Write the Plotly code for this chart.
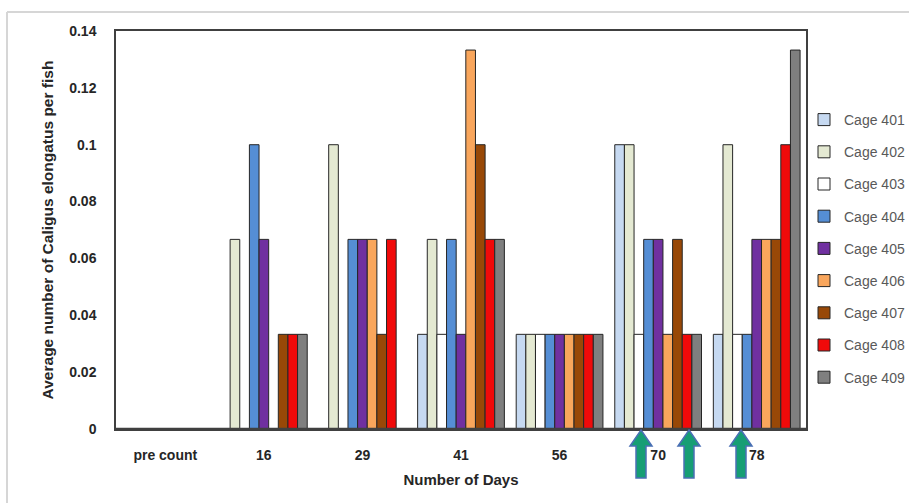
import plotly.graph_objects as go

categories = ["pre count", "16", "29", "41", "56", "70", "78"]
cage_names = ["Cage 401", "Cage 402", "Cage 403", "Cage 404", "Cage 405",
              "Cage 406", "Cage 407", "Cage 408", "Cage 409"]
cage401 = [0, 0, 0, 0.0333, 0.0333, 0.1, 0.0333]
cage402 = [0, 0.0667, 0.1, 0.0667, 0.0333, 0.1, 0.1]
cage403 = [0, 0, 0, 0.0333, 0.0333, 0.0333, 0.0333]
cage404 = [0, 0.1, 0.0667, 0.0667, 0.0333, 0.0667, 0.0333]
cage405 = [0, 0.0667, 0.0667, 0.0333, 0.0333, 0.0667, 0.0667]
cage406 = [0, 0, 0.0667, 0.1333, 0.0333, 0.0333, 0.0667]
cage407 = [0, 0.0333, 0.0333, 0.1, 0.0333, 0.0667, 0.0667]
cage408 = [0, 0.0333, 0.0667, 0.0667, 0.0333, 0.0333, 0.1]
cage409 = [0, 0.0333, 0, 0.0667, 0.0333, 0.0333, 0.1333]
series = [cage401, cage402, cage403, cage404, cage405, cage406, cage407, cage408, cage409]
colors = ["#C6D9F1", "#E4E9D2", "#FFFFFF", "#558ED5", "#7030A0",
          "#F9A65C", "#984807", "#F00A0A", "#7F7F7F"]
ytick_vals = [0, 0.02, 0.04, 0.06, 0.08, 0.1, 0.12, 0.14]
ytick_text = ["0", "0.02", "0.04", "0.06", "0.08", "0.1", "0.12", "0.14"]

W, H = 909, 503
L, R, T, B = 116, 806, 31, 429
font = "Liberation Sans"
fs = 14

fig = go.Figure()
for i, (name, vals, col) in enumerate(zip(cage_names, series, colors)):
    fig.add_trace(go.Bar(
        x=categories, y=vals, name=name, legendgroup=name,
        marker=dict(color=col, line=dict(color="#262626", width=1)),
    ))

def px2p(x, y):
    return (x - L) / (R - L), (B - y) / (B - T)

shapes = []
# baseline (covers outlines of zero-height bars)
shapes.append(dict(type="line", xref="paper", yref="y", x0=0, x1=1, y0=0, y1=0,
                   layer="above", line=dict(color="#404040", width=2.5)))
# arrows
for ax in [641, 689, 741]:
    pts = [(ax, 430), (ax + 11, 446), (ax + 5, 446), (ax + 5, 478),
           (ax - 5, 478), (ax - 5, 446), (ax - 11, 446)]
    pp = [px2p(x, y) for x, y in pts]
    path = "M " + " L ".join(f"{x:.5f},{y:.5f}" for x, y in pp) + " Z"
    shapes.append(dict(type="path", xref="paper", yref="paper", path=path,
                       fillcolor="#169E74", line=dict(color="#4A6FB5", width=1.5)))
# outer frame lines
x0, y0 = px2p(7, 12)
x1, _ = px2p(909, 12)
_, yb = px2p(7, 503)
shapes.append(dict(type="line", xref="paper", yref="paper", x0=x0, x1=x1, y0=y0, y1=y0,
                   line=dict(color="#D6D6D6", width=2)))
shapes.append(dict(type="line", xref="paper", yref="paper", x0=x0, x1=x0, y0=y0, y1=yb,
                   line=dict(color="#D6D6D6", width=2)))

fig.update_layout(
    width=W, height=H,
    margin=dict(l=L, r=W - R, t=T, b=H - B, autoexpand=False),
    paper_bgcolor="white", plot_bgcolor="white",
    barmode="group", bargap=0.12, bargroupgap=0,
    font=dict(family=font, size=fs, color="#262626"),
    showlegend=True,
    legend=dict(x=1.0 - 2 / (R - L), xanchor="left", y=(B - 104) / (B - T), yanchor="top",
                font=dict(family=font, size=fs, color="#595959"),
                traceorder="grouped", tracegroupgap=11,
                bgcolor="rgba(0,0,0,0)"),
    xaxis=dict(showline=True, linecolor="#404040", linewidth=1.5, mirror=True,
               ticks="", ticklabelstandoff=12,
               tickfont=dict(family=font, size=fs, color="#262626", weight="bold"),
               title=dict(text="<b>Number of Days</b>", standoff=13,
                          font=dict(family=font, size=15, color="#262626"))),
    yaxis=dict(range=[0, 0.14], showline=True, linecolor="#404040", linewidth=1.5,
               mirror=True, showgrid=False, zeroline=False,
               tickvals=ytick_vals, ticktext=ytick_text, ticks="", ticklabelstandoff=15,
               tickfont=dict(family=font, size=fs, color="#262626", weight="bold"),
               title=dict(text="<b>Average number of Caligus elongatus per fish</b>",
                          standoff=12,
                          font=dict(family=font, size=15.5, color="#262626"))),
    shapes=shapes,
)

fig.write_html("out.html")
